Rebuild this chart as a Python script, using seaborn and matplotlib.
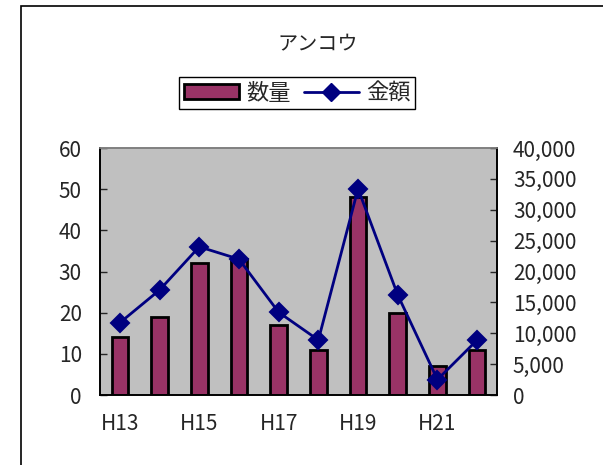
import numpy as np
import pandas as pd
import seaborn as sns
import matplotlib.pyplot as plt
from matplotlib.patches import Patch, Rectangle
from matplotlib.lines import Line2D
from matplotlib.ticker import FuncFormatter

# data
years = ['H13', 'H14', 'H15', 'H16', 'H17', 'H18', 'H19', 'H20', 'H21', 'H22']
quantity = [14, 19, 32, 33, 17, 11, 48, 20, 7, 11]
amount = [11700, 17000, 24000, 22000, 13400, 8900, 33400, 16200, 2500, 8900]
xlabels = ['H13', '', 'H15', '', 'H17', '', 'H19', '', 'H21', '']

sns.set_style('white')
plt.rcParams['font.family'] = ['Noto Sans CJK JP', 'DejaVu Sans']

bar_color = '#993366'
line_color = '#000080'

fig = plt.figure(figsize=(6.03, 4.65), dpi=100)
ax = fig.add_axes([100/603, 1-395/465, 397/603, 247/465])
ax.set_facecolor('#C0C0C0')

df = pd.DataFrame({'year': years, 'qty': quantity, 'amt': amount})
sns.barplot(data=df, x='year', y='qty', ax=ax, color=bar_color, width=0.42,
            edgecolor='black', linewidth=2, saturation=1)
ax.set_ylim(0, 60)
ax.set_xlim(-0.5, 9.5)
ax.set_yticks(range(0, 61, 10))
ax.set_xticks(range(10))
ax.set_xticklabels(xlabels)
ax.set_xticks(np.arange(-0.5, 10, 1), minor=True)
ax.tick_params(axis='x', which='major', length=0, pad=13, labelsize=15)
ax.tick_params(axis='x', which='minor', direction='in', length=4, width=1)
ax.tick_params(axis='y', direction='in', length=5, width=1, labelsize=15, pad=13)
ax.set_xlabel('')
ax.set_ylabel('')

ax2 = ax.twinx()
sns.pointplot(data=df, x='year', y='amt', ax=ax2, color=line_color, markers='D',
              linestyles='-', markersize=9, linewidth=2)
ax2.set_ylim(0, 40000)
ax2.set_xlim(-0.5, 9.5)
ax2.set_yticks(range(0, 40001, 5000))
ax2.yaxis.set_major_formatter(FuncFormatter(lambda v, p: f'{int(v):,}'))
ax2.tick_params(axis='y', direction='in', length=5, width=1, labelsize=15, pad=11.5)
ax2.set_ylabel('')

for a in (ax, ax2):
    for s in ('left', 'right', 'bottom'):
        a.spines[s].set_color('black')
        a.spines[s].set_linewidth(1.2)
    a.spines['top'].set_color('#808080')
    a.spines['top'].set_linewidth(1.2)

fig.text(318/603, 1-45/465, 'アンコウ', ha='center', va='center', fontsize=14.5)

handles = [Patch(facecolor=bar_color, edgecolor='black', linewidth=2),
           Line2D([0], [0], color=line_color, marker='D', markersize=9, linewidth=2)]
fig.legend(handles, ['数量', '金額'], loc='center', bbox_to_anchor=(297/603, 1-93/465),
           ncol=2, fontsize=16, frameon=True, fancybox=False, edgecolor='black',
           framealpha=1, handlelength=2.5, columnspacing=0.6, handletextpad=0.3,
           borderpad=0.2, borderaxespad=0)

fig.patches.append(Rectangle((21/603, -0.1), 2, 1.1 - 6/465, transform=fig.transFigure,
                             fill=False, edgecolor='black', linewidth=1.2))

fig.savefig('out.png', dpi=100)
